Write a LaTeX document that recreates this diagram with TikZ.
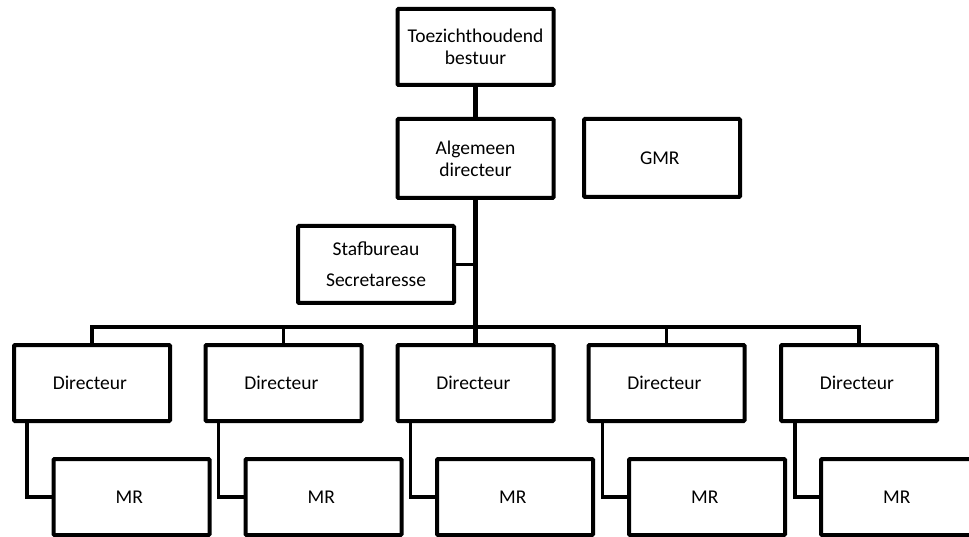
\documentclass[tikz,border=0pt]{standalone}
\usepackage{fontspec}
\setmainfont{Carlito}
\begin{document}
\begin{tikzpicture}[x = 1pt, y = -1pt, every node/.style={font = \fontsize{19.5}{22}\selectfont, align = center}, box/.style={draw, line width = 4pt, rounded corners = 1pt, minimum width = 156pt, minimum height = 76pt, inner sep = 0pt}, trunk/.style={line width = 4.5pt}, branch/.style={line width = 3.5pt}]

  \useasboundingbox (0, 0) rectangle (969, 537);
  \clip (0, 0) rectangle (969, 537);

  \node[box] (tb) at (475.5, 47) { Toezichthoudend\\bestuur };
  \node[box, minimum height = 79pt] (ad) at (475.5, 158.5) { Algemeen\\directeur };
  \node[box, minimum height = 78pt] (gmr) at (662, 158) { GMR };
  \node[box, minimum height = 77pt] (staf) at (376, 264.5) { Stafbureau\\[9pt]Secretaresse };

  \draw[trunk] (tb) -- (ad);
  \draw[trunk] (ad) -- (475.5, 343);
  \draw[branch] (staf.east) -- (staf.east -| ad.south);

  \node[box] (dir1) at (92, 383) { Directeur };
  \node[box] (dir2) at (283.5, 383) { Directeur };
  \node[box] (dir3) at (475.5, 383) { Directeur };
  \node[box] (dir4) at (666.5, 383) { Directeur };
  \node[box] (dir5) at (859, 383) { Directeur };

  \coordinate (bus) at (475.5, 327);

  \draw[branch] (dir1.north) |- (bus) -| (dir5.north);
  \draw[branch] (dir2.north) -- (dir2.north |- bus);
  \draw[branch] (dir4.north) -- (dir4.north |- bus);

  \node[box] (mr1) at (131.5, 497) { MR };
  \node[box] (mr2) at (323.5, 497) { MR };
  \node[box] (mr3) at (515, 497) { MR };
  \node[box] (mr4) at (707, 497) { MR };
  \node[box] (mr5) at (899, 497) { MR };

  \draw[branch] ([xshift = 15pt]dir1.south west) |- (mr1.west);
  \draw[branch] ([xshift = 15pt]dir2.south west) |- (mr2.west);
  \draw[branch] ([xshift = 15pt]dir3.south west) |- (mr3.west);
  \draw[branch] ([xshift = 16pt]dir4.south west) |- (mr4.west);
  \draw[branch] ([xshift = 16pt]dir5.south west) |- (mr5.west);

\end{tikzpicture}
\end{document}
